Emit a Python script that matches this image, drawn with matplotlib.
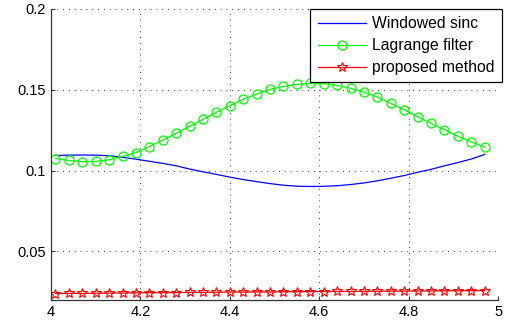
import numpy as np
import matplotlib
matplotlib.use("Agg")
from matplotlib import pyplot as plt

plt.rcParams['font.family'] = ['Liberation Sans', 'DejaVu Sans']

x = np.round(np.arange(4.01, 4.9701, 0.03), 2)

sinc_err = [0.1094, 0.1096, 0.1097, 0.1096, 0.1092, 0.1083, 0.1071, 0.1058, 0.1045,
            0.1030, 0.1010, 0.0993, 0.0977, 0.0960, 0.0945, 0.0932, 0.0920, 0.0910,
            0.0904, 0.0902, 0.0903, 0.0907, 0.0914, 0.0924, 0.0937, 0.0953, 0.0970,
            0.0990, 0.1008, 0.1030, 0.1050, 0.1072, 0.1100]

lagrange_err = [0.1075, 0.1063, 0.1055, 0.1057, 0.1067, 0.1088, 0.1112, 0.1149, 0.1190,
                0.1231, 0.1275, 0.1318, 0.1361, 0.1402, 0.1441, 0.1474, 0.1503, 0.1521,
                0.1533, 0.1540, 0.1538, 0.1527, 0.1509, 0.1486, 0.1455, 0.1416, 0.1377,
                0.1334, 0.1293, 0.1254, 0.1213, 0.1178, 0.1145]

proposed_err = [0.0240, 0.0241, 0.0241, 0.0242, 0.0243, 0.0243, 0.0244, 0.0245, 0.0245,
                0.0246, 0.0247, 0.0247, 0.0248, 0.0249, 0.0249, 0.0250, 0.0250, 0.0251,
                0.0251, 0.0252, 0.0252, 0.0253, 0.0253, 0.0254, 0.0254, 0.0255, 0.0255,
                0.0256, 0.0256, 0.0257, 0.0257, 0.0258, 0.0258]

labels = ['Windowed sinc', 'Lagrange filter', 'proposed method']

fig = plt.figure(figsize=(5.12, 3.27), dpi=100)
ax = fig.add_axes([0.0996, 0.0826, 0.8731, 0.8899])

ax.plot(x, sinc_err, color=(0, 0, 1), lw=0.9, label=labels[0])
ax.plot(x, lagrange_err, color=(0, 1, 0), lw=0.9, marker='o', ms=6.5,
        mfc='none', mew=0.9, label=labels[1])
ax.plot(x, proposed_err, color=(1, 0, 0), lw=0.9, marker='*', ms=7.5,
        mfc='none', mew=0.8, label=labels[2])

ax.set_xlim(4, 5)
ax.set_ylim(0.02, 0.2)
ax.set_xticks([4, 4.2, 4.4, 4.6, 4.8, 5])
ax.set_xticklabels(['4', '4.2', '4.4', '4.6', '4.8', '5'])
ax.set_yticks([0.05, 0.1, 0.15, 0.2])
ax.set_yticklabels(['0.05', '0.1', '0.15', '0.2'])

ax.grid(True, linestyle=(0, (1, 6)), color='k', lw=0.6)
ax.spines['top'].set_visible(False)
ax.spines['right'].set_visible(False)
for s in ('left', 'bottom'):
    ax.spines[s].set_color('#333333')
    ax.spines[s].set_linewidth(0.9)
ax.tick_params(direction='in', labelsize=10.5, length=3, color='#333333')

leg = ax.legend(loc='upper right', bbox_to_anchor=(502 / 512, 1 - 9 / 327),
                bbox_transform=fig.transFigure, fontsize=11.3, frameon=True,
                fancybox=False, edgecolor='k', framealpha=1, borderpad=0.45,
                labelspacing=0.45, handlelength=3.1, handletextpad=0.4,
                borderaxespad=0)
leg.get_frame().set_linewidth(0.9)

fig.savefig('out.png', dpi=100)
